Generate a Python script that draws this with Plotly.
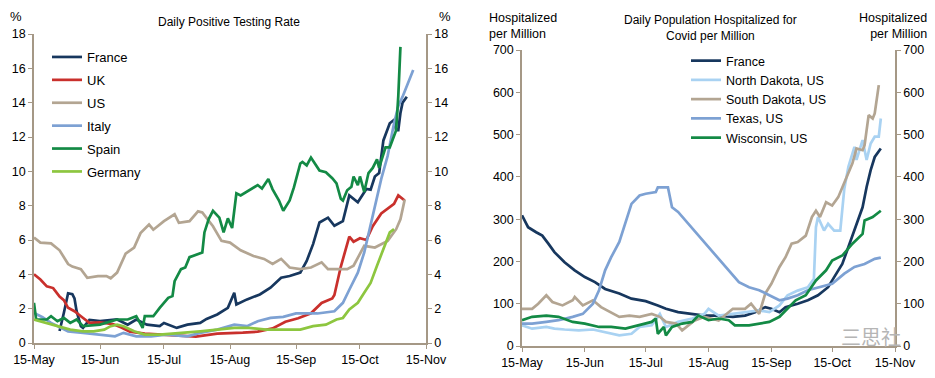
import pandas as pd
import plotly.graph_objects as go

START = "2020-05-15"

# ---------- Left chart: Daily Positive Testing Rate (%) ----------
# day offsets from 15-May and values
fr_day = [12, 13, 14, 16, 18, 19, 20, 22, 23, 26, 31, 39, 44, 48, 53, 59, 61, 67, 72, 78, 81, 86, 91, 94, 95, 100, 106, 111, 116, 120, 125, 128, 131, 134, 138, 141, 145, 148, 152, 156, 158, 160, 162, 164, 167, 169, 170, 171, 172, 173, 175]
fr_val = [0.7, 1.2, 1.75, 2.9, 2.85, 2.6, 1.85, 0.98, 0.88, 1.35, 1.27, 1.37, 1.07, 1.37, 1.07, 0.98, 1.17, 0.88, 1.07, 1.17, 1.4, 1.66, 2.05, 2.93, 2.24, 2.54, 2.83, 3.22, 3.8, 3.9, 4.1, 4.78, 5.76, 7.02, 7.3, 6.83, 7.1, 8.6, 8.2, 8.97, 8.93, 9.7, 9.9, 11.8, 12.8, 13.0, 12.4, 12.4, 13.4, 14.0, 14.35]

uk_day = [0, 3, 6, 9, 12, 14, 16, 19, 22, 26, 31, 37, 41, 45, 52, 61, 68, 76, 86, 90, 98, 105, 112, 118, 124, 130, 135, 140, 141, 144, 148, 150, 153, 156, 159, 163, 166, 169, 171, 174]
uk_val = [4.0, 3.7, 3.3, 3.2, 2.7, 2.5, 2.05, 1.85, 1.56, 1.17, 1.2, 1.1, 0.9, 0.66, 0.55, 0.47, 0.42, 0.37, 0.55, 0.56, 0.6, 0.66, 0.85, 1.24, 1.44, 1.73, 2.33, 2.6, 2.8, 4.44, 6.2, 5.9, 6.1, 6.0, 6.8, 7.55, 7.8, 8.1, 8.6, 8.3]

us_day = [0, 3, 8, 12, 16, 18, 22, 25, 30, 34, 36, 39, 43, 47, 50, 54, 56, 61, 66, 68, 73, 77, 79, 84, 88, 92, 97, 103, 108, 112, 116, 120, 125, 130, 135, 138, 143, 147, 150, 155, 160, 166, 170, 172, 174]
us_val = [6.15, 5.85, 5.8, 5.4, 4.6, 4.45, 4.3, 3.8, 3.9, 3.9, 3.77, 4.1, 5.2, 5.56, 6.4, 6.9, 6.6, 7.1, 7.5, 7.0, 7.1, 7.67, 7.6, 6.8, 5.95, 5.85, 5.4, 5.07, 4.9, 4.6, 4.9, 4.4, 4.3, 4.4, 4.7, 4.3, 4.3, 4.3, 4.5, 5.66, 5.56, 5.95, 6.63, 7.2, 8.35]

it_day = [0, 4, 8, 16, 23, 31, 38, 42, 48, 55, 62, 72, 78, 86, 94, 100, 105, 111, 117, 123, 133, 141, 145, 148, 152, 155, 158, 161, 163, 166, 169, 171, 173, 178]
it_val = [1.75, 1.5, 1.17, 0.68, 0.59, 0.49, 0.39, 0.59, 0.39, 0.39, 0.49, 0.39, 0.59, 0.78, 1.07, 0.98, 1.27, 1.46, 1.52, 1.72, 1.72, 1.85, 2.34, 3.1, 4.1, 5.27, 6.83, 8.4, 9.56, 10.9, 12.8, 13.8, 14.35, 15.9]

es_day = [0, 1, 6, 8, 11, 14, 17, 20, 23, 31, 39, 44, 48, 51, 52, 56, 59, 63, 65, 66, 69, 71, 73, 77, 79, 80, 82, 84, 87, 89, 91, 93, 95, 97, 101, 105, 107, 109, 110, 112, 115, 117, 120, 122, 125, 126, 128, 130, 134, 137, 140, 142, 144, 145, 147, 149, 150, 152, 153, 155, 157, 159, 161, 162, 165, 167, 170, 171, 172]
es_val = [2.34, 1.37, 1.37, 1.56, 1.27, 1.46, 1.17, 1.37, 0.98, 1.07, 1.37, 1.37, 1.56, 0.88, 1.56, 1.56, 2.05, 2.63, 2.73, 3.6, 4.3, 4.4, 5.0, 5.17, 5.27, 6.44, 7.22, 7.7, 7.3, 6.44, 7.26, 6.7, 8.72, 8.6, 8.9, 9.2, 9.0, 9.4, 9.55, 8.95, 8.3, 7.7, 8.3, 9.06, 10.46, 10.55, 10.35, 10.8, 10.05, 9.95, 9.6, 9.3, 8.4, 8.3, 8.9, 9.1, 9.7, 9.2, 9.7, 8.8, 9.9, 10.2, 10.7, 10.2, 11.4, 11.4, 12.4, 14.4, 17.25]

de_day = [0, 6, 12, 17, 23, 28, 33, 36, 39, 42, 47, 52, 59, 66, 72, 78, 86, 94, 101, 109, 117, 125, 131, 137, 142, 145, 148, 152, 155, 158, 161, 164, 167, 169]
de_val = [1.37, 1.17, 0.98, 0.78, 0.68, 0.68, 0.78, 0.98, 1.07, 0.98, 0.68, 0.49, 0.49, 0.55, 0.62, 0.68, 0.78, 0.88, 0.88, 0.78, 0.78, 0.78, 0.98, 1.07, 1.37, 1.46, 1.95, 2.34, 2.93, 3.5, 4.5, 5.46, 6.44, 6.63]

# ---------- Right chart: Hospitalized per Million ----------
hfr_day = [0, 3, 7, 10, 13, 16, 21, 26, 31, 36, 41, 48, 54, 61, 67, 71, 77, 84, 90, 97, 104, 110, 115, 120, 123, 127, 130, 136, 141, 146, 151, 154, 158, 161, 164, 168, 170, 172, 174, 177]
hfr_val = [309, 281, 269, 261, 242, 222, 198, 179, 163, 151, 135, 124, 112, 106, 96, 88, 80, 76, 72, 72, 69, 72, 80, 92, 88, 80, 92, 100, 108, 120, 139, 163, 194, 234, 273, 328, 376, 416, 447, 467]

nd_day = [0, 5, 12, 16, 21, 28, 35, 41, 48, 54, 58, 64, 68, 71, 77, 84, 90, 92, 97, 104, 110, 117, 122, 127, 131, 136, 141, 144, 145, 146, 149, 151, 154, 157, 159, 161, 164, 165, 168, 170, 172, 174, 176, 177]
nd_val = [49, 41, 45, 41, 39, 37, 39, 33, 25, 29, 45, 49, 76, 45, 57, 65, 76, 88, 72, 76, 80, 84, 80, 96, 120, 131, 139, 159, 281, 305, 273, 289, 273, 273, 372, 424, 471, 440, 487, 440, 479, 495, 495, 538]

sd_day = [0, 5, 8, 12, 15, 20, 25, 26, 30, 35, 39, 44, 48, 53, 58, 64, 68, 71, 76, 79, 85, 90, 97, 104, 110, 113, 117, 120, 123, 127, 130, 133, 136, 140, 143, 145, 147, 150, 153, 156, 158, 160, 163, 165, 168, 169, 171, 173, 174, 176]
sd_val = [88, 88, 100, 120, 104, 96, 108, 116, 96, 108, 92, 80, 69, 72, 69, 76, 69, 57, 53, 37, 60, 69, 60, 88, 88, 100, 76, 124, 147, 187, 210, 242, 246, 261, 305, 320, 305, 340, 332, 352, 376, 400, 432, 467, 463, 475, 546, 538, 550, 617]

tx_day = [0, 5, 12, 18, 25, 30, 35, 38, 41, 44, 48, 51, 54, 58, 61, 66, 67, 72, 74, 77, 82, 87, 92, 97, 102, 107, 112, 117, 122, 127, 131, 136, 141, 146, 153, 159, 164, 169, 174, 177]
tx_val = [53, 53, 57, 61, 69, 76, 100, 132, 179, 210, 246, 289, 336, 356, 360, 364, 375, 375, 328, 317, 289, 261, 234, 206, 179, 151, 139, 132, 120, 108, 112, 120, 132, 139, 147, 171, 187, 194, 206, 209]

wi_day = [0, 5, 12, 18, 25, 31, 38, 44, 51, 58, 64, 66, 67, 70, 71, 74, 79, 84, 87, 92, 97, 102, 105, 112, 117, 122, 127, 130, 135, 140, 145, 150, 153, 158, 163, 168, 169, 173, 177]
wi_val = [61, 69, 72, 69, 57, 53, 45, 45, 41, 49, 57, 65, 29, 45, 25, 45, 53, 57, 72, 61, 65, 61, 49, 49, 53, 57, 69, 84, 108, 120, 155, 179, 202, 214, 242, 265, 297, 305, 320]

months = ["2020-05-15", "2020-06-15", "2020-07-15", "2020-08-15", "2020-09-15", "2020-10-15", "2020-11-15"]
month_labels = ["15-May", "15-Jun", "15-Jul", "15-Aug", "15-Sep", "15-Oct", "15-Nov"]


def to_dates(days):
    return pd.Timestamp(START) + pd.to_timedelta(days, unit="D")


AX = "#A59886"
FONT = "Liberation Sans, Arial, sans-serif"

fig = go.Figure()

left_series = [
    ("France", fr_day, fr_val, "#17375E"),
    ("UK", uk_day, uk_val, "#C9302C"),
    ("US", us_day, us_val, "#B3A592"),
    ("Italy", it_day, it_val, "#7DA1D3"),
    ("Spain", es_day, es_val, "#138A45"),
    ("Germany", de_day, de_val, "#8DC63F"),
]
for name, d, v, c in left_series:
    fig.add_trace(go.Scatter(x=to_dates(d), y=v, name=name, mode="lines",
                             line=dict(color=c, width=2.7), xaxis="x", yaxis="y",
                             legend="legend", legendgroup=name))

right_series = [
    ("France", hfr_day, hfr_val, "#17375E"),
    ("North Dakota, US", nd_day, nd_val, "#A9D2F2"),
    ("South Dakota, US", sd_day, sd_val, "#B3A592"),
    ("Texas, US", tx_day, tx_val, "#7DA1D3"),
    ("Wisconsin, US", wi_day, wi_val, "#138A45"),
]
for name, d, v, c in right_series:
    fig.add_trace(go.Scatter(x=to_dates(d), y=v, name=name, mode="lines",
                             line=dict(color=c, width=2.7), xaxis="x2", yaxis="y3",
                             legend="legend2"))

# invisible copies so the mirrored right-hand axes are drawn
fig.add_trace(go.Scatter(x=to_dates(fr_day), y=fr_val, mode="lines", opacity=0,
                         xaxis="x", yaxis="y2", showlegend=False, hoverinfo="skip"))
fig.add_trace(go.Scatter(x=to_dates(hfr_day), y=hfr_val, mode="lines", opacity=0,
                         xaxis="x2", yaxis="y4", showlegend=False, hoverinfo="skip"))

W, H = 935, 378


def px(x):
    return x / W


def py(y):
    return 1 - y / H


xcommon = dict(type="date", range=["2020-05-15", "2020-11-15"], tickvals=months,
               ticktext=month_labels, showline=True, linecolor=AX, linewidth=1.5,
               ticks="outside", tickcolor=AX, ticklen=4, showgrid=False, zeroline=False,
               tickfont=dict(size=12.5, color="#000", family=FONT))
ycommon = dict(showline=True, linecolor=AX, linewidth=1.5, ticks="outside", tickcolor=AX,
               ticklen=4, showgrid=False, zeroline=False,
               tickfont=dict(size=12.5, color="#000", family=FONT))

fig.update_layout(
    width=W, height=H,
    margin=dict(l=0, r=0, t=0, b=0, autoexpand=False),
    paper_bgcolor="white", plot_bgcolor="white",
    font=dict(family=FONT, color="#000"),
    xaxis=dict(domain=[px(34), px(426)], anchor="y", **xcommon),
    yaxis=dict(domain=[py(343), py(34)], range=[0, 18], dtick=2, anchor="x", side="left", **ycommon),
    yaxis2=dict(range=[0, 18], dtick=2, anchor="x", overlaying="y", side="right", **ycommon),
    xaxis2=dict(domain=[px(522), px(895)], anchor="y3", **xcommon),
    yaxis3=dict(domain=[py(346), py(50)], range=[0, 700], dtick=100, anchor="x2", side="left", **ycommon),
    yaxis4=dict(range=[0, 700], dtick=100, anchor="x2", overlaying="y3", side="right", **ycommon),
    legend=dict(x=px(47), y=py(42), xanchor="left", yanchor="top", bgcolor="rgba(0,0,0,0)",
                font=dict(size=13, family=FONT), tracegroupgap=3, itemwidth=30),
    legend2=dict(x=px(686), y=py(46), xanchor="left", yanchor="top", bgcolor="rgba(0,0,0,0)",
                 font=dict(size=12.5, family=FONT), itemwidth=30),
    showlegend=True,
)

ann = [
    dict(x=px(16), y=py(16), text="%", font=dict(size=13)),
    dict(x=px(445), y=py(16), text="%", font=dict(size=13)),
    dict(x=px(229), y=py(22), text="Daily Positive Testing Rate", font=dict(size=12)),
    dict(x=px(710), y=py(28), text="Daily Population Hospitalized for<br>Covid per Million", font=dict(size=12)),
    dict(x=px(487), y=py(26), text="Hospitalized<br>per Million", xanchor="left", align="left", font=dict(size=12.5)),
    dict(x=px(929), y=py(26), text="Hospitalized<br>per Million", xanchor="right", align="right", font=dict(size=12.5)),
    dict(x=px(903), y=py(336), text="三思社", xanchor="right", font=dict(size=20, color="#B5B5B5", family="Noto Sans CJK SC")),
]
for a in ann:
    a.setdefault("xanchor", "center")
    a.update(xref="paper", yref="paper", yanchor="middle", showarrow=False)
    a["font"].setdefault("family", FONT)
    a["font"].setdefault("color", "#000")
    fig.add_annotation(**a)

fig.write_html("out.html", config={"displayModeBar": False},
               post_script="document.body.style.margin='0';")
